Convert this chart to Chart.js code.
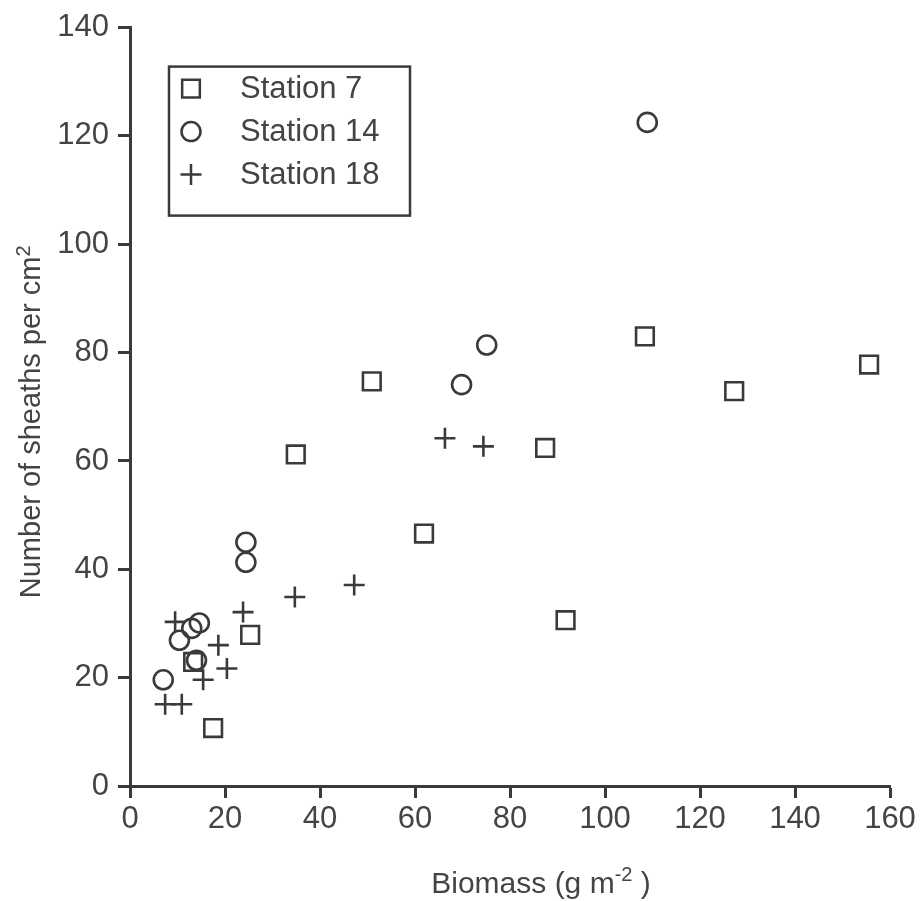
<!DOCTYPE html>
<html>
<head>
<meta charset="utf-8">
<script src="https://cdn.jsdelivr.net/npm/chart.js@4.4.1/dist/chart.umd.min.js"></script>
<style>
  html, body { margin: 0; background: #fff; }
</style>
</head>
<body>
<canvas id="scatter" width="920" height="901"></canvas>
<script>
// Biomass (g m-2) vs number of sheaths per cm2
const station7X  = [50.9, 34.9, 87.4, 61.9, 91.7, 108.4, 127.2, 155.6, 25.3, 13.3, 17.5];
const station7Y  = [74.7, 61.2, 62.4, 46.6, 30.6, 83.0, 72.9, 77.8, 27.9, 22.9, 10.7];
const station14X = [108.9, 75.1, 69.8, 24.4, 24.4, 14.6, 13.0, 10.4, 14.0, 7.0];
const station14Y = [122.5, 81.4, 74.1, 45.0, 41.3, 30.1, 29.1, 26.9, 23.2, 19.6];
const station18X = [66.3, 74.4, 47.2, 34.7, 23.8, 9.5, 18.6, 20.4, 15.4, 7.4, 10.9];
const station18Y = [64.2, 62.7, 37.1, 34.9, 32.1, 30.3, 26.0, 21.7, 19.6, 15.1, 15.1];

const seriesNames = ['Station 7', 'Station 14', 'Station 18'];
const seriesStyles = ['rect', 'circle', 'cross'];
const seriesRadius = [12.5, 9.5, 10.5];

const ink = '#3a3a3a';
const textInk = '#444';
const font = '"Liberation Sans", Arial, Helvetica, sans-serif';

function toPoints(xs, ys) {
  return xs.map((x, i) => ({ x: x, y: ys[i] }));
}

// boxed legend inside the plot, top-left
const boxLegend = {
  id: 'boxLegend',
  afterDraw(chart) {
    const ctx = chart.ctx;
    const area = chart.chartArea;
    const left = area.left + 39, top = area.top + 39;
    const w = 241, h = 149;
    ctx.save();
    ctx.strokeStyle = ink;
    ctx.lineWidth = 2.5;
    ctx.strokeRect(left, top, w, h);
    ctx.font = '31px ' + font;
    ctx.textBaseline = 'middle';
    seriesNames.forEach((name, i) => {
      const y = top + 22 + i * 43;
      ctx.strokeStyle = ink;
      ctx.fillStyle = 'rgba(0,0,0,0)';
      ctx.lineWidth = 2.5;
      Chart.helpers.drawPoint(ctx, {
        pointStyle: seriesStyles[i],
        radius: seriesRadius[i],
        rotation: 0,
        borderWidth: 2.5
      }, left + 22, y);
      ctx.fillStyle = textInk;
      ctx.fillText(name, left + 71, y + 1);
    });
    ctx.restore();
  }
};

// draws "main" + raised small "sup" + "tail" starting at x (in current transform)
function supText(ctx, main, sup, tail, x, base, bigPx, smallPx, rise) {
  const big = bigPx + 'px ' + font, small = smallPx + 'px ' + font;
  ctx.font = big;
  const w1 = ctx.measureText(main).width;
  ctx.fillText(main, x, base);
  ctx.font = small;
  const w2 = ctx.measureText(sup).width;
  ctx.fillText(sup, x + w1, base - rise);
  ctx.font = big;
  ctx.fillText(tail, x + w1 + w2, base);
}

function supWidth(ctx, main, sup, tail, bigPx, smallPx) {
  ctx.font = bigPx + 'px ' + font;
  const a = ctx.measureText(main).width + ctx.measureText(tail).width;
  ctx.font = smallPx + 'px ' + font;
  return a + ctx.measureText(sup).width;
}

// axis titles with real superscripts
const axisTitles = {
  id: 'axisTitles',
  afterDraw(chart) {
    const ctx = chart.ctx;
    const area = chart.chartArea;
    ctx.save();
    ctx.fillStyle = textInk;
    ctx.textBaseline = 'alphabetic';
    ctx.textAlign = 'left';

    // x title
    const xw = supWidth(ctx, 'Biomass (g m', '-2', ' )', 30, 20);
    const xx = (area.left + area.right) / 2 + 31 - xw / 2;
    supText(ctx, 'Biomass (g m', '-2', ' )', xx, area.bottom + 107, 30, 20, 12);

    // y title
    ctx.translate(40, (area.top + area.bottom) / 2 + 15);
    ctx.rotate(-Math.PI / 2);
    const yw = supWidth(ctx, 'Number of sheaths per cm', '2', '', 29, 20);
    supText(ctx, 'Number of sheaths per cm', '2', '', -yw / 2, 0, 29, 20, 10);
    ctx.restore();
  }
};

const datasets = [
  toPoints(station7X, station7Y),
  toPoints(station14X, station14Y),
  toPoints(station18X, station18Y)
].map((pts, i) => ({
  label: seriesNames[i],
  data: pts,
  pointStyle: seriesStyles[i],
  pointRadius: seriesRadius[i],
  pointHoverRadius: seriesRadius[i],
  pointBorderWidth: 2.6,
  pointBorderColor: ink,
  pointBackgroundColor: 'rgba(0,0,0,0)',
  showLine: false
}));

new Chart(document.getElementById('scatter').getContext('2d'), {
  type: 'scatter',
  data: { datasets: datasets },
  options: {
    responsive: false,
    animation: false,
    devicePixelRatio: 1,
    layout: { padding: { top: 27, right: 30, left: 0, bottom: 0 } },
    plugins: {
      legend: { display: false },
      tooltip: { enabled: false }
    },
    scales: {
      x: {
        type: 'linear',
        min: 0,
        max: 160,
        ticks: { stepSize: 20, color: textInk, padding: 3, font: { family: font, size: 31 } },
        grid: { drawOnChartArea: false, tickLength: 12, tickWidth: 3, tickColor: ink },
        border: { display: true, width: 3, color: ink },
        afterFit(scale) { scale.height = 115; }
      },
      y: {
        type: 'linear',
        min: 0,
        max: 140,
        ticks: { stepSize: 20, color: textInk, padding: 9, font: { family: font, size: 31 } },
        grid: { drawOnChartArea: false, tickLength: 12, tickWidth: 3, tickColor: ink },
        border: { display: true, width: 3, color: ink },
        afterFit(scale) { scale.width = 130; }
      }
    }
  },
  plugins: [boxLegend, axisTitles]
});
</script>
</body>
</html>
